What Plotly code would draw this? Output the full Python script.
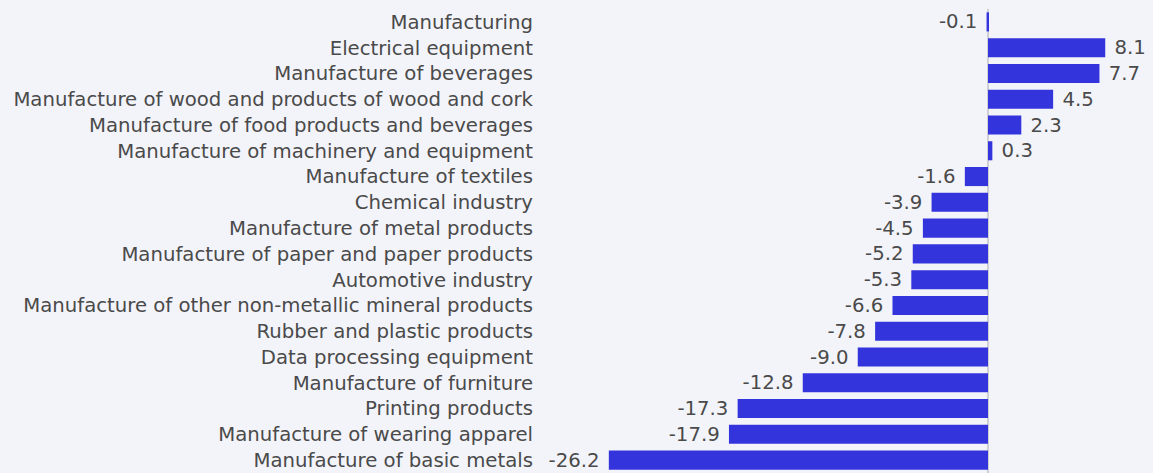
import plotly.graph_objects as go

categories = [
    "Manufacturing",
    "Electrical equipment",
    "Manufacture of beverages",
    "Manufacture of wood and products of wood and cork",
    "Manufacture of food products and beverages",
    "Manufacture of machinery and equipment",
    "Manufacture of textiles",
    "Chemical industry",
    "Manufacture of metal products",
    "Manufacture of paper and paper products",
    "Automotive industry",
    "Manufacture of other non-metallic mineral products",
    "Rubber and plastic products",
    "Data processing equipment",
    "Manufacture of furniture",
    "Printing products",
    "Manufacture of wearing apparel",
    "Manufacture of basic metals",
]
values = [-0.1, 8.1, 7.7, 4.5, 2.3, 0.3, -1.6, -3.9, -4.5, -5.2, -5.3, -6.6, -7.8, -9.0, -12.8, -17.3, -17.9, -26.2]
labels = [(f"\u00a0{v:.1f}" if v >= 0 else f"{v:.1f}\u00a0") for v in values]

FONT = "DejaVu Sans"
FS = 19.7
TXT = "#4a4a4a"

fig = go.Figure(go.Bar(
    x=values, y=categories, orientation="h",
    marker=dict(color="#3434dc", line=dict(width=0)),
    text=labels, textposition="outside", cliponaxis=False,
    constraintext="none",
    textfont=dict(size=FS, color=TXT, family=FONT),
))

fig.update_layout(
    width=1153, height=473,
    margin=dict(l=534, r=0, t=9, b=0),
    paper_bgcolor="#f3f4fa", plot_bgcolor="#f3f4fa",
    bargap=0.26,
    showlegend=False,
    font=dict(family=FONT, size=FS, color=TXT),
    xaxis=dict(range=[-31.37, 11.4], showgrid=False, showticklabels=False,
               zeroline=True, zerolinecolor="#cfd0d4", zerolinewidth=2),
    yaxis=dict(autorange="reversed", showgrid=False, ticks="",
               tickfont=dict(size=FS, color=TXT, family=FONT)),
)

fig.write_html("out.html", config={"displayModeBar": False},
               post_script="document.body.style.margin='0';document.body.style.background='#f3f4fa';")
